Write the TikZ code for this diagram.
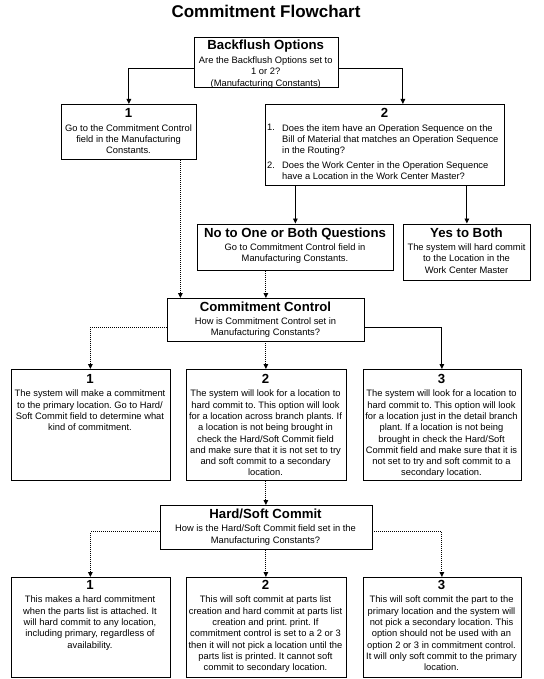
\documentclass[tikz,border=0pt]{standalone}
\usepackage{fontspec}
\setmainfont{Liberation Sans}
\usetikzlibrary{arrows.meta,positioning}
\frenchspacing
\tikzset{
  >={Triangle[length=5pt,width=4.6pt]},
  card/.style={draw=black,fill=white,line width=.8pt,inner sep=0pt,anchor=north west},
  head/.style={font=\bfseries\fontsize{13.2}{15}\selectfont,anchor=base,inner sep=0pt},
  body/.style={font=\fontsize{9.35}{11.3}\selectfont,align=center,anchor=north,inner sep=0pt},
  item/.style={font=\fontsize{9.35}{11.3}\selectfont,align=left,anchor=north west,inner sep=0pt},
  flow/.style={->,line width=.9pt},
  dotflow/.style={flow,dash pattern=on .9pt off 1.1pt},
}

\begin{document}
\begin{tikzpicture}[x=1pt,y=1pt]
  \fill[white] (0,0) rectangle (543,-679);
  \useasboundingbox (0,0) rectangle (543,-679);

  \node[font=\bfseries\fontsize{17}{20}\selectfont,anchor=base] (title) at (266,-18) {Commitment Flowchart};

  % backflush options
  \node[card,minimum width=143.5,minimum height=50.5] (bf) at (194,-37) {};
  \node[head] (bfhead) at (265.75,-49.7) {Backflush Options};
  \node[body] (bftext) at (265.75,-56.6)
    {Are the Backflush Options set to\\1 or 2?\\(Manufacturing Constants)};

  \node[card,minimum width=135,minimum height=55.5] (one) at (61,-104) {};
  \node[head] (onehead) at (128.5,-117.2) {1};
  \node[body] (onetext) at (128.5,-124.1)
    {Go to the Commitment Control\\field in the Manufacturing\\Constants.};

  \node[card,minimum width=239,minimum height=81] (two) at (265,-104) {};
  \node[head] (twohead) at (384.5,-117.2) {2};
  \node[item] (twoqa) at (267,-124.1) {1.};
  \node[item] (twoqatext) at (282,-124.1)
    {Does the item have an Operation Sequence on the\\Bill of Material that matches an Operation Sequence\\in the Routing?};
  \node[item] (twoqb) at (267,-161.6) {2.};
  \node[item] (twoqbtext) at (282,-161.6)
    {Does the Work Center in the Operation Sequence\\have a Location in the Work Center Master?};

  \node[card,minimum width=196,minimum height=46.5] (no) at (197,-223.5) {};
  \node[head] (nohead) at (295,-237.7) {No to One or Both Questions};
  \node[body] (notext) at (295,-243.6)
    {Go to Commitment Control field in\\Manufacturing Constants.};

  \node[card,minimum width=127,minimum height=56] (yes) at (403,-223.5) {};
  \node[head] (yeshead) at (466.5,-237.7) {Yes to Both};
  \node[body] (yestext) at (466.5,-243.6)
    {The system will hard commit\\to the Location in the\\Work Center Master};

  % commitment control
  \node[card,minimum width=197,minimum height=42.5] (cc) at (167,-298) {};
  \node[head] (cchead) at (265.5,-311.4) {Commitment Control};
  \node[body] (cctext) at (265.5,-317.1)
    {How is Commitment Control set in\\Manufacturing Constants?};

  \node[card,minimum width=159,minimum height=111] (ccone) at (10.5,-369) {};
  \node[head] (cconehead) at (90,-383) {1};
  \node[body] (cconetext) at (90,-389.9)
    {The system will make a commitment\\to the primary location. Go to Hard/\\Soft Commit field to determine what\\kind of commitment.};

  \node[card,minimum width=160,minimum height=111] (cctwo) at (185.5,-369) {};
  \node[head] (cctwohead) at (265.5,-383) {2};
  \node[body] (cctwotext) at (265.5,-389.9)
    {The system will look for a location to\\hard commit to. This option will look\\for a location across branch plants. If\\a location is not being brought in\\check the Hard/Soft Commit field\\and make sure that it is not set to try\\and soft commit to a secondary\\location.};

  \node[card,minimum width=158,minimum height=111] (ccthree) at (362.5,-369) {};
  \node[head] (ccthreehead) at (441.5,-383) {3};
  \node[body] (ccthreetext) at (441.5,-389.9)
    {The system will look for a location to\\hard commit to. This option will look\\for a location just in the detail branch\\plant. If a location is not being\\brought in check the Hard/Soft\\Commit field and make sure that it is\\not set to try and soft commit to a\\secondary location.};

  % hard/soft commit
  \node[card,minimum width=212,minimum height=44] (hs) at (159.5,-505) {};
  \node[head] (hshead) at (265.5,-518.7) {Hard/Soft Commit};
  \node[body] (hstext) at (265.5,-524.9)
    {How is the Hard/Soft Commit field set in the\\Manufacturing Constants?};

  \node[card,minimum width=159,minimum height=100] (hsone) at (10.5,-577) {};
  \node[head] (hsonehead) at (90,-589) {1};
  \node[body] (hsonetext) at (90,-595.9)
    {This makes a hard commitment\\when the parts list is attached. It\\will hard commit to any location,\\including primary, regardless of\\availability.};

  \node[card,minimum width=160,minimum height=100] (hstwo) at (185.5,-577) {};
  \node[head] (hstwohead) at (265.5,-589) {2};
  \node[body] (hstwotext) at (265.5,-595.9)
    {This will soft commit at parts list\\creation and hard commit at parts list\\creation and print. print. If\\commitment control is set to a 2 or 3\\then it will not pick a location until the\\parts list is printed. It cannot soft\\commit to secondary location.};

  \node[card,minimum width=158,minimum height=100] (hsthree) at (362.5,-577) {};
  \node[head] (hsthreehead) at (441.5,-589) {3};
  \node[body] (hsthreetext) at (441.5,-595.9)
    {This will soft commit the part to the\\primary location and the system will\\not pick a secondary location. This\\option should not be used with an\\option 2 or 3 in commitment control.\\It will only soft commit to the primary\\location.};

  % connectors
  \draw[flow] ([yshift=-6]bf.west) -| (one.north);
  \draw[flow] ([yshift=-6]bf.east) -| ([xshift=18]two.north);
  \draw[dotflow] ([xshift=51.5]one.south) -- ([xshift=51.5]one.south |- cc.north);
  \draw[flow] (two.south -| no.north) -- (no.north);
  \draw[flow] (two.south -| yes.north) -- (yes.north);
  \draw[dotflow] (no.south -| cc.north) -- (cc.north);
  \draw[dotflow] ([yshift=-7.5]cc.west) -| (ccone.north);
  \draw[flow] ([yshift=-7.5]cc.east) -| (ccthree.north);
  \draw[dotflow] (cc.south) -- (cctwo.north);
  \draw[dotflow] (cctwo.south) -- (hs.north);
  \draw[dotflow] ([yshift=-4.5]hs.west) -| (hsone.north);
  \draw[dotflow] ([yshift=-4.5]hs.east) -| (hsthree.north);
  \draw[dotflow] (hs.south) -- (hstwo.north);
\end{tikzpicture}
\end{document}
